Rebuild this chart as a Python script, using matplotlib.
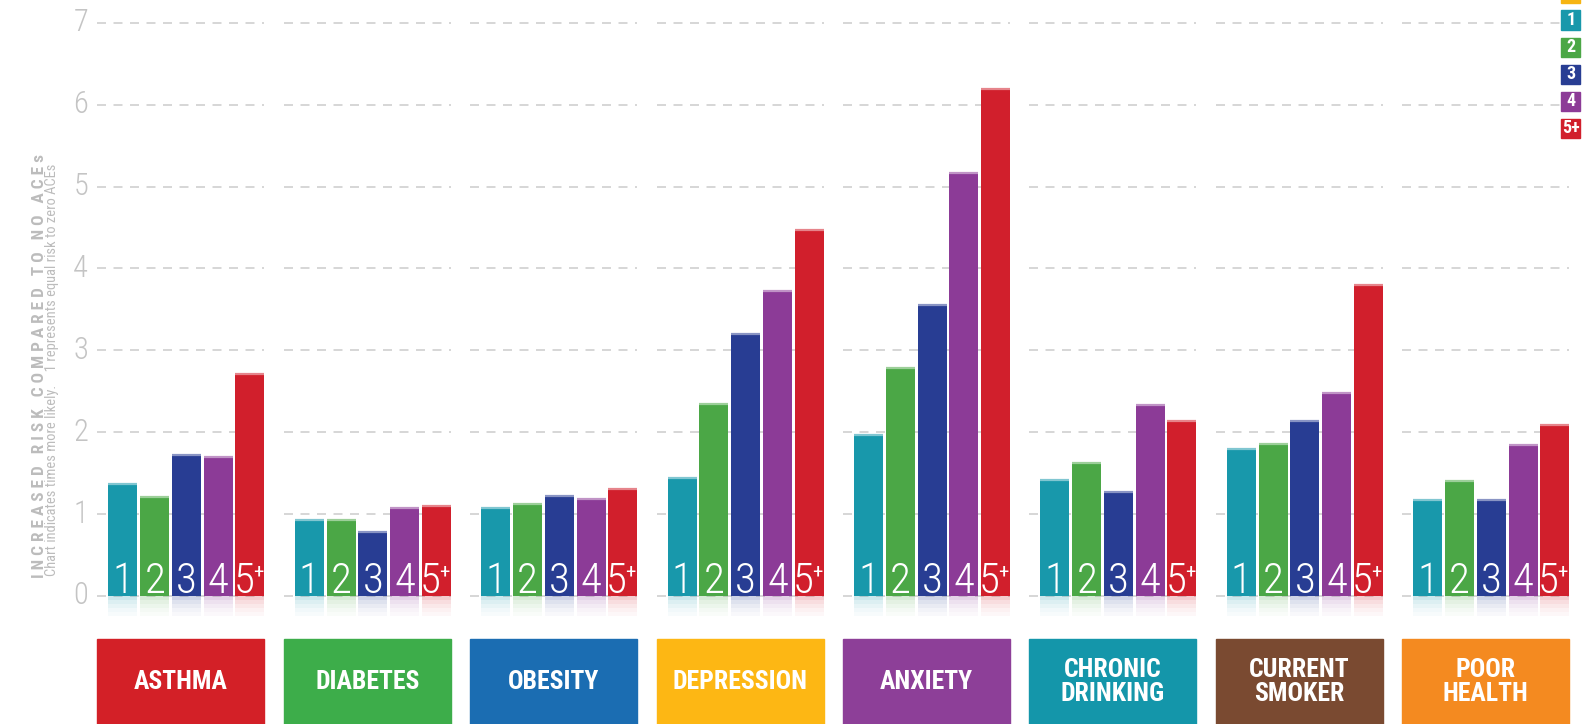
import numpy as np
import matplotlib
matplotlib.use('Agg')
import matplotlib.pyplot as plt
from matplotlib.patches import Rectangle
from matplotlib import font_manager

# --- data ---
categories = ['ASTHMA', 'DIABETES', 'OBESITY', 'DEPRESSION', 'ANXIETY',
              'CHRONIC\nDRINKING', 'CURRENT\nSMOKER', 'POOR\nHEALTH']
ace_levels = ['1', '2', '3', '4', '5+']
ace_1 = [1.37, 0.93, 1.07, 1.44, 1.97, 1.42, 1.79, 1.17]
ace_2 = [1.21, 0.93, 1.12, 2.35, 2.78, 1.63, 1.85, 1.40]
ace_3 = [1.72, 0.78, 1.22, 3.20, 3.55, 1.27, 2.14, 1.17]
ace_4 = [1.70, 1.08, 1.18, 3.73, 5.17, 2.33, 2.48, 1.84]
ace_5 = [2.71, 1.10, 1.31, 4.47, 6.19, 2.14, 3.80, 2.09]
y_ticks = [0, 1, 2, 3, 4, 5, 6, 7]
legend_labels = ['0', '1', '2', '3', '4', '5+']

series = [ace_1, ace_2, ace_3, ace_4, ace_5]
bar_colors = ['#1898ab', '#4ba746', '#283d93', '#8c3b97', '#d11f2c']
legend_colors = ['#f6b412'] + bar_colors
box_colors = ['#d32027', '#3dad4a', '#1b6db2', '#fdb714', '#8d3f98',
              '#1496aa', '#7a4a31', '#f48a20']

# pick a condensed face if one is installed
available = {f.name for f in font_manager.fontManager.ttflist}
NARROW = 'DejaVu Sans'
for cand in ['Roboto Condensed', 'Liberation Sans Narrow', 'Open Sans Condensed',
             'Noto Sans Condensed', 'Arial Narrow']:
    if cand in available:
        NARROW = cand
        break
FONT = dict(family=[NARROW, 'DejaVu Sans'], fontstretch='condensed')

# --- layout (pixels of the 1584x724 canvas) ---
PX_X = 186.4   # px per category group
PX_Y = 81.9    # px per risk unit
ZERO_PX = 596  # baseline, from top

fig = plt.figure(figsize=(15.84, 7.24), dpi=100)
ax = fig.add_axes([0, 0, 1, 1])
ax.set_xlim(-1.0005, -1.0005 + 1584 / PX_X)
ax.set_ylim(-(724 - ZERO_PX) / PX_Y, ZERO_PX / PX_Y)
ax.axis('off')

x = np.arange(len(categories))
bar_w = 29 / PX_X
bar_step = 31.75 / PX_X
box_l = -89 / PX_X
box_r = 78 / PX_X

# dashed grid segments, one per group
for t in y_ticks:
    ax.hlines([t] * len(x), x + box_l, x + box_r, colors='#d0d0d0',
              linewidth=1.2, linestyles=(0, (5.4, 4.5)), zorder=1)
    ax.text(-0.528, t, str(t), ha='right', va='center', fontsize=22,
            fontweight='light', color='#c4c4c4', **FONT)


def lighten(c, f):
    rgb = np.array(matplotlib.colors.to_rgb(c))
    return tuple(rgb + (1 - rgb) * f)


# bars
for j, vals in enumerate(series):
    xs = x + (j - 2) * bar_step
    ax.bar(xs, vals, width=bar_w, color=bar_colors[j], zorder=3)
    ax.hlines(vals, xs - bar_w / 2, xs + bar_w / 2,
              colors=[lighten(bar_colors[j], 0.45)], linewidth=1.6, zorder=4)
    # faded reflection under baseline
    h = 4 / PX_Y
    for k, a in enumerate([0.22, 0.15, 0.10, 0.06, 0.03]):
        ax.bar(xs, h, bottom=-(k + 1) * h, width=bar_w,
               color=bar_colors[j], alpha=a, linewidth=0, zorder=2)

# number labels inside bars
base_y = 3 / PX_Y
for i in x:
    for j, lab in enumerate(ace_levels):
        xc = i + (j - 2) * bar_step
        if len(lab) == 1:
            ax.text(xc, base_y, lab, ha='center', va='baseline', color='white',
                    fontsize=31, fontweight='light', zorder=5, **FONT)
        else:
            ax.annotate(lab[0], (xc, base_y), xytext=(3, 0),
                        textcoords='offset points', ha='right', va='baseline',
                        color='white', fontsize=31, fontweight='light',
                        zorder=5, **FONT)
            ax.annotate(lab[1:], (xc, base_y), xytext=(2, 22),
                        textcoords='offset points', ha='left', va='top',
                        color='white', fontsize=15, zorder=5, **FONT)

# category boxes
box_top = -42.5 / PX_Y
y_bottom = ax.get_ylim()[0]
for i, (cat, col) in enumerate(zip(categories, box_colors)):
    ax.add_patch(Rectangle((i + box_l, y_bottom - 0.1), box_r - box_l,
                           box_top - y_bottom + 0.1, color=col, zorder=3))
    ax.text(i + (box_l + box_r) / 2, -86 / PX_Y, cat, ha='center',
            va='center', color='white', fontsize=18.5, fontweight='bold',
            linespacing=1.0, zorder=4, **FONT)

# legend squares (top right, partly cut)
lx = -1.0005 + 1571 / PX_X
for k, (lab, col) in enumerate(zip(legend_labels, legend_colors)):
    cy = (ZERO_PX - (-7 + 27 * k)) / PX_Y
    ax.add_patch(Rectangle((lx - 9.5 / PX_X, cy - 9.5 / PX_Y), 19 / PX_X,
                           19 / PX_Y, color=col, zorder=6))
    if k > 0:
        ax.text(lx, cy, lab, ha='center', va='center', color='white',
                fontsize=13, fontweight='bold', zorder=7, **FONT)

# axis titles, sized to the span they take in the reference
title = '   '.join(' '.join(w) for w in 'INCREASED RISK COMPARED TO NO ACEs'.split())
t1 = ax.text(-1.0005 + 39 / PX_X, (ZERO_PX - 366) / PX_Y, title, rotation=90,
             ha='center', va='center', fontsize=11, fontweight='bold',
             color='#bcbcbc', **FONT)
t2 = ax.text(-1.0005 + 52 / PX_X, (ZERO_PX - 370) / PX_Y,
             'Chart indicates times more likely.    1 represents equal risk to zero ACEs',
             rotation=90, ha='center', va='center', fontsize=8,
             color='#bcbcbc', **FONT)
renderer = fig.canvas.get_renderer()
for txt, span in [(t1, 422), (t2, 410)]:
    h = txt.get_window_extent(renderer).height
    txt.set_fontsize(txt.get_fontsize() * span / h)

fig.savefig('out.png', dpi=100)
